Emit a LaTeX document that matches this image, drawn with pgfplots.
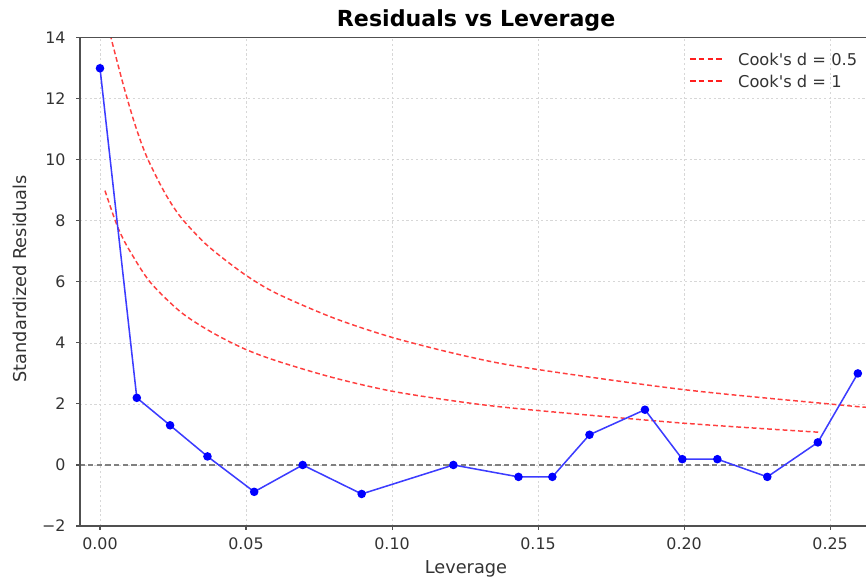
\documentclass[border=0pt]{standalone}
\usepackage{fontspec}
\setmainfont{DejaVu Sans}
\newfontfamily\plainfont{DejaVu Sans}
\usepackage{pgfplots}
\pgfplotsset{compat=1.18}
\usetikzlibrary{calc}
\definecolor{spine}{RGB}{80,80,80}
\definecolor{gridc}{RGB}{215,215,215}
\definecolor{cookred}{RGB}{255,62,62}
\definecolor{legred}{RGB}{255,30,30}
\definecolor{lineblue}{RGB}{60,60,255}
\definecolor{labelc}{RGB}{51,51,51}
\begin{document}
\begin{tikzpicture}
\begin{axis}[
  name=ax,
  scale only axis,
  width=589.5pt, height=366.2pt,
  xmin=-0.00685, xmax=0.2623,
  ymin=-2, ymax=14,
  xtick={0,0.05,0.1,0.15,0.2,0.25},
  xticklabels={0.00,0.05,0.10,0.15,0.20,0.25},
  ytick={-2,0,2,4,6,8,10,12,14},
  yticklabels={−2,0,2,4,6,8,10,12,14},
  tick pos=left,
  tick align=outside,
  major tick length=2.8pt,
  every tick/.style={spine, line width=0.8pt},
  tick label style={font=\fontsize{11.9}{14}\selectfont, text=labelc},
  xticklabel style={yshift=-2.5pt},
  yticklabel style={xshift=-4.5pt},
  axis line style={draw=none},
  grid=major,
  major grid style={gridc, line width=0.6pt, dash pattern=on 1.6pt off 2pt},
  clip=true,
]
\addplot[cookred, line width=1.1pt, dash pattern=on 3.6pt off 2.2pt, smooth, tension=0.5] coordinates {
(0.0030,14.35) (0.00377,14.0) (0.0080,12.45) (0.0120,11.15) (0.0160,10.1) (0.0220,8.95)
(0.0274,8.15) (0.0350,7.35) (0.0411,6.85) (0.0502,6.2) (0.0605,5.62) (0.0799,4.82)
(0.1004,4.17) (0.1256,3.56) (0.1470,3.17) (0.1998,2.47) (0.2530,1.97) (0.2623,1.89) (0.2700,1.83)
};
\addplot[cookred, line width=1.1pt, dash pattern=on 3.6pt off 2.2pt, smooth, tension=0.5] coordinates {
(0.0017,8.99) (0.00457,8.18) (0.00685,7.62) (0.0103,7.0) (0.0171,6.0) (0.0274,5.03)
(0.0377,4.38) (0.0491,3.82) (0.0605,3.41) (0.0799,2.86) (0.1004,2.41) (0.1256,2.04)
(0.1470,1.81) (0.1998,1.37) (0.2466,1.07)
};
\addplot[gray, line width=0.9pt, dash pattern=on 4pt off 2.5pt] coordinates {(-0.01,0) (0.27,0)};
\addplot[lineblue, line width=1.15pt, mark=*, mark size=2.6pt,
  mark options={solid, fill=blue, draw=blue}] coordinates {
(0.0000,13.0) (0.0126,2.2) (0.0240,1.3) (0.0368,0.28) (0.0528,-0.88) (0.0694,0.0)
(0.0896,-0.95) (0.1210,0.0) (0.1433,-0.39) (0.1549,-0.39) (0.1676,0.99) (0.1866,1.81)
(0.1994,0.19) (0.2114,0.19) (0.2285,-0.39) (0.2458,0.74) (0.2595,3.0)
};
% legend keys
\addplot[legred, line width=1.5pt, dash pattern=on 4.2pt off 2.4pt] coordinates {(0.2020,13.31) (0.2140,13.31)};
\addplot[legred, line width=1.5pt, dash pattern=on 4.2pt off 2.4pt] coordinates {(0.2020,12.575) (0.2140,12.575)};
\node[anchor=west, inner sep=0pt, font=\plainfont\fontsize{12.2}{14}\selectfont, text=labelc]
  at (axis description cs:0.837,0.9558) {Cook's d = 0.5};
\node[anchor=west, inner sep=0pt, font=\plainfont\fontsize{12.2}{14}\selectfont, text=labelc]
  at (axis description cs:0.837,0.9100) {Cook's d = 1};
\end{axis}
\draw[spine, line width=0.9pt] (ax.south west) -- (ax.north west) -- (ax.north east);
\draw[spine, line width=0.9pt] (ax.south west) -- (ax.south east);
\node[anchor=base, font=\bfseries\fontsize{16.6}{19}\selectfont] at ([yshift=8.4pt]$(ax.north west)!0.504!(ax.north east)$) {Residuals vs Leverage};
\node[anchor=base, font=\fontsize{13.3}{16}\selectfont, text=labelc] at ([yshift=-35.3pt]$(ax.south west)!0.491!(ax.south east)$) {Leverage};
\node[anchor=base, rotate=90, font=\fontsize{13.3}{16}\selectfont, text=labelc] at ([xshift=-39.8pt]$(ax.south west)!0.506!(ax.north west)$) {Standardized Residuals};
\pgfresetboundingbox
\useasboundingbox ([xshift=-60pt,yshift=-42pt]ax.south west) rectangle ([yshift=28.3pt]ax.north east);
\end{tikzpicture}
\end{document}
